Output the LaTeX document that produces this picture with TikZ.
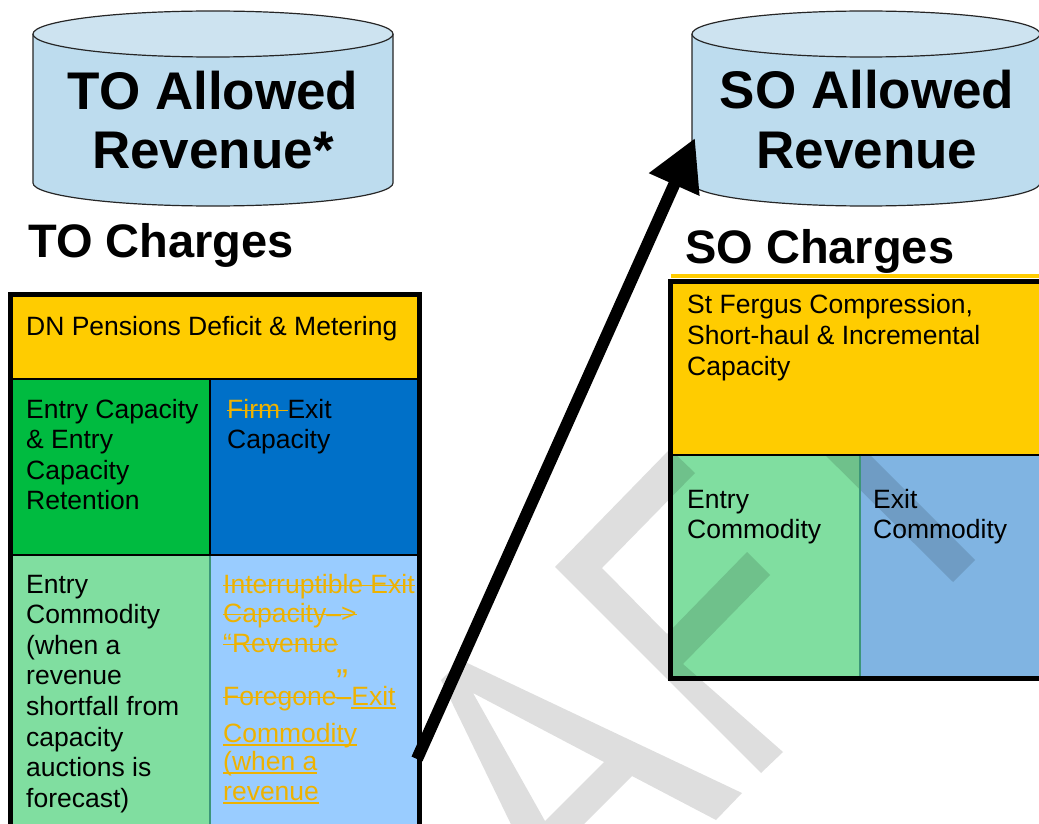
\documentclass[tikz,border=0pt]{standalone}
\usepackage{fontspec}
\setmainfont{Liberation Sans}
\usetikzlibrary{arrows.meta}
\definecolor{cylbody}{RGB}{189,220,238}
\definecolor{cyltop}{RGB}{205,227,240}
\definecolor{cyell}{RGB}{255,204,0}
\definecolor{cgreen}{RGB}{0,187,64}
\definecolor{cblue}{RGB}{0,112,200}
\definecolor{clgreen}{RGB}{128,222,160}
\definecolor{clblue}{RGB}{153,204,255}
\definecolor{csoblue}{RGB}{128,180,226}
\definecolor{corange}{RGB}{238,178,0}
\definecolor{cteal}{RGB}{60,150,120}
\newsavebox\mybx
\newcommand\stk[1]{\sbox\mybx{#1}\rlap{\rule[6.6pt]{\wd\mybx}{1.6pt}}\usebox\mybx}
\newcommand\unl[1]{\sbox\mybx{#1}\rlap{\rule[-3.8pt]{\wd\mybx}{1.6pt}}\usebox\mybx}
\begin{document}
\begin{tikzpicture}[x=1pt,y=-1pt,
  txt/.style={anchor=base west,inner sep=0pt,font=\fontsize{26.5}{30.6}\selectfont},
  ttl/.style={anchor=base,inner sep=0pt,font=\fontsize{53}{58}\selectfont\bfseries},
  hdr/.style={anchor=base west,inner sep=0pt,font=\fontsize{47}{52}\selectfont\bfseries},
  cyl/.style={draw=black!85,line width=1.2pt},
  frame/.style={draw=black,line width=5pt},
  div/.style={draw=black,line width=2pt}]

\clip (0,0) rectangle (1039,824);
\fill[white] (0,0) rectangle (1039,824);

% TO cylinder
\fill[cylbody] (33,34) -- (33,183) arc[start angle=180,end angle=0,x radius=180,y radius=23] -- (393,34) -- cycle;
\draw[cyl] (33,34) -- (33,183) arc[start angle=180,end angle=0,x radius=180,y radius=23] -- (393,34);
\filldraw[cyl,fill=cyltop] (213,34) ellipse [x radius=180,y radius=23];
\node[ttl] (toA) at (213,110) {TO Allowed};
\node[ttl] (toB) at (213,168) {Revenue*};

% SO cylinder
\fill[cylbody] (692,34) -- (692,183) arc[start angle=180,end angle=0,x radius=174,y radius=23] -- (1040,34) -- cycle;
\draw[cyl] (692,34) -- (692,183) arc[start angle=180,end angle=0,x radius=174,y radius=23] -- (1040,34);
\filldraw[cyl,fill=cyltop] (866,34) ellipse [x radius=174,y radius=23];
\node[ttl] (soA) at (867,109) {SO Allowed};
\node[ttl] (soB) at (867,168) {Revenue};

% headings
\node[hdr] (toH) at (28,257) {TO Charges};
\node[hdr] (soH) at (685,263) {SO Charges};

% TO box
\fill[cyell] (10,294) rectangle (420,379);
\fill[cgreen] (10,379) rectangle (210,555);
\fill[cblue] (210,379) rectangle (420,555);
\fill[clgreen] (10,555) rectangle (210,830);
\fill[clblue] (210,555) rectangle (420,830);
\draw[div] (10,379) -- (420,379);
\draw[div] (10,555) -- (420,555);
\draw[div] (210,379) -- (210,555);
\draw[draw=cteal,line width=2pt] (210,556) -- (210,830);
\draw[frame] (10.5,830) -- (10.5,294.5) -- (419.5,294.5) -- (419.5,830);

% SO box lower cells
\fill[cyell] (671,274) rectangle (1045,278.3);
\fill[clgreen] (670,454) rectangle (860,678);
\fill[csoblue] (860,454) rectangle (1045,678);

% watermark
\fill[black,opacity=0.13,even odd rule]
 (441,680) -- (461,660) -- (742,793) -- (716,820) -- (632,776) -- (561,847) -- (579,880) -- (538,880) -- cycle
 (473,693) -- (604,762) -- (545,821) -- cycle
 (555,567) -- (670,449) -- (695,473) -- (602,568) -- (667,634) -- (747,552) -- (770,575) -- (683,664) -- (783,752) -- (761,773) -- cycle
 (800,430) -- (845,430) -- (975,560) -- (953,582) -- cycle;

% SO box top cell and lines
\fill[cyell] (670,281) rectangle (1045,454);
\draw[div] (670,454.5) -- (1045,454.5);
\draw[cteal,line width=1.5pt] (860,455.5) -- (860,676);
\draw[frame] (1045,281.5) -- (670.5,281.5) -- (670.5,678) -- (1045,678);

% TO texts
\node[txt] (dn) at (26,335) {DN Pensions Deficit \& Metering};
\foreach \t [count=\i from 0] in {{Entry Capacity},{\& Entry},{Capacity},{Retention}}
  \node[txt] (ec\i) at (26,418+30.6*\i) {\t};
\node[txt] (ex0) at (227,418) {\textcolor{corange}{\stk{Firm\ }}Exit};
\node[txt] (ex1) at (227,448.6) {Capacity};
\foreach \t [count=\i from 0] in {{Entry},{Commodity},{(when a},{revenue},{shortfall from},{capacity},{auctions is},{forecast)}}
  \node[txt] (en\i) at (26,593+30.6*\i) {\t};
\begin{scope}[every node/.append style={text=corange}]
\node[txt] (ir0) at (223,593) {\stk{Interruptible Exit}};
\node[txt] (ir1) at (223,622) {\stk{Capacity–>}};
\node[txt] (ir2) at (223,652) {\stk{“Revenue}};
\node[txt,font=\fontsize{36}{40}\selectfont] (ir3) at (336,694) {\raisebox{0pt}[\height][0pt]{”}};
\node[txt] (ir4) at (223,705) {\stk{Foregone–}\unl{Exit}};
\node[txt] (ir5) at (223,742) {\unl{Commodity}};
\node[txt] (ir6) at (223,770) {\unl{(when a}};
\node[txt] (ir7) at (223,800) {\unl{revenue}};
\end{scope}

% SO texts
\node[txt] (sf0) at (687,313) {St Fergus Compression,};
\node[txt] (sf1) at (687,344) {Short-haul \& Incremental};
\node[txt] (sf2) at (687,375) {Capacity};
\node[txt] (sc0) at (687,508) {Entry};
\node[txt] (sc1) at (687,538) {Commodity};
\node[txt] (xc0) at (873,508) {Exit};
\node[txt] (xc1) at (873,538) {Commodity};

% arrow
\coordinate (atail) at (417,759);
\coordinate (atip) at (695,138);
\draw[line width=12pt,-{Triangle[length=51pt,width=52pt]}] (atail) -- (atip);
\end{tikzpicture}
\end{document}
